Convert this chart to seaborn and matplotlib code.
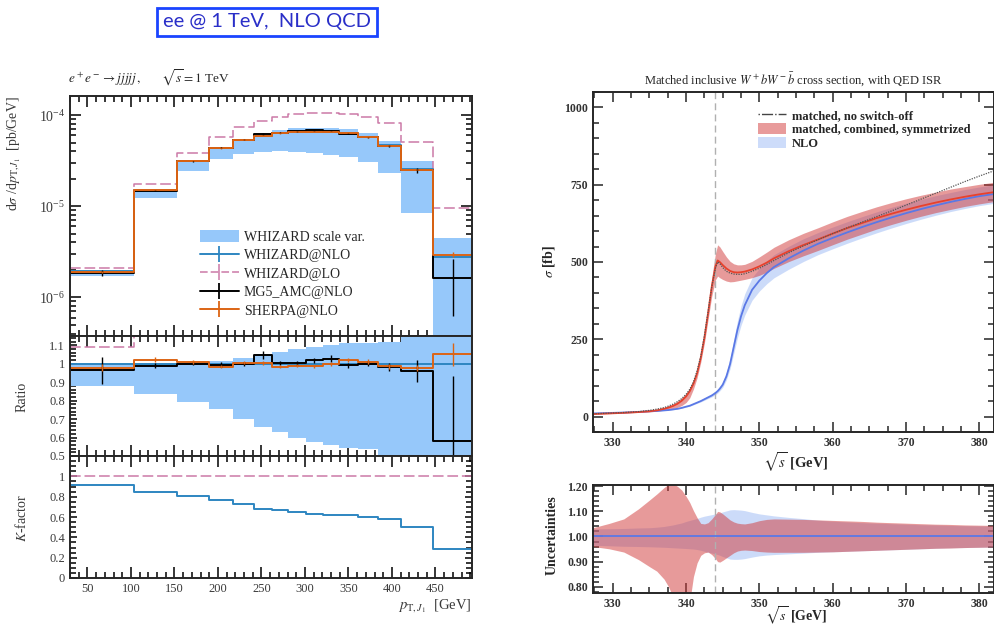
import numpy as np
import matplotlib
matplotlib.use("Agg")
import matplotlib.pyplot as plt
import seaborn as sns
from matplotlib.lines import Line2D
from matplotlib.patches import Patch
from matplotlib.ticker import MultipleLocator, FixedLocator, FuncFormatter, LogLocator, NullFormatter

# ---------------- e+e- -> jjjjj at 1 TeV : leading-jet pT ----------------
pt_edges = [30, 103.5, 153, 190, 217.7, 242, 262.7, 281, 300.8, 320.4,
            338.8, 360.8, 383.8, 410.4, 447.3, 492]
whizard_nlo = [1.93e-6, 1.49e-5, 3.10e-5, 4.40e-5, 5.35e-5, 5.90e-5, 6.40e-5, 6.62e-5,
               6.70e-5, 6.55e-5, 6.30e-5, 5.68e-5, 4.68e-5, 2.58e-5, 2.80e-6]
whizard_lo = [2.10e-6, 1.76e-5, 3.84e-5, 5.73e-5, 7.37e-5, 8.64e-5, 9.55e-5, 1.02e-4,
              1.057e-4, 1.056e-4, 1.02e-4, 9.47e-5, 8.10e-5, 5.10e-5, 9.65e-6]
mg5_nlo = [1.86e-6, 1.475e-5, 3.10e-5, 4.38e-5, 5.35e-5, 6.17e-5, 6.42e-5, 6.65e-5,
           6.83e-5, 6.73e-5, 6.24e-5, 5.68e-5, 4.59e-5, 2.48e-5, 1.62e-6]
mg5_err = [1.4e-7, 2e-7, 3e-7, 5e-7, 6e-7, 1.2e-6, 6e-7, 8e-7,
           9e-7, 1.2e-6, 8e-7, 8e-7, 1.0e-6, 1.5e-6, 1.0e-6]
sherpa_nlo = [1.89e-6, 1.52e-5, 3.13e-5, 4.33e-5, 5.38e-5, 5.93e-5, 6.30e-5, 6.55e-5,
              6.60e-5, 6.55e-5, 6.43e-5, 5.74e-5, 4.61e-5, 2.52e-5, 2.94e-6]
sherpa_err = [4e-8, 2e-7, 3e-7, 4e-7, 5e-7, 6e-7, 6e-7, 6e-7,
              7e-7, 7e-7, 8e-7, 7e-7, 6e-7, 4e-7, 1.8e-7]
scale_hi = [1.93e-6, 1.49e-5, 3.10e-5, 4.47e-5, 5.51e-5, 6.20e-5, 6.82e-5, 7.15e-5,
            7.30e-5, 7.20e-5, 6.99e-5, 6.33e-5, 5.24e-5, 3.12e-5, 4.48e-6]
scale_lo = [1.70e-6, 1.244e-5, 2.45e-5, 3.32e-5, 3.745e-5, 3.89e-5, 4.03e-5, 3.97e-5,
            3.85e-5, 3.67e-5, 3.43e-5, 3.04e-5, 2.29e-5, 8.5e-6, 8e-8]

# ---------------- W+bW-bbar threshold scan ----------------
sqrt_s = [327.3, 329.5, 331.5, 333.5, 335, 336, 337, 337.6, 338.2, 338.8, 339.4, 340,
          340.5, 341, 341.5, 342, 342.5, 343, 343.5, 344, 344.3, 344.6, 345, 345.5,
          346, 346.5, 347, 347.5, 348, 349, 350, 351, 352, 354, 356, 358, 360, 362,
          364, 366, 368, 370, 372, 374, 376, 378, 380, 382]
sigma_matched = [8, 10, 12, 14.5, 17, 20, 25, 29, 34, 41, 51, 65,
                 82, 106, 140, 190, 255, 335, 420, 485, 505, 500, 490, 479,
                 471, 467, 466, 467, 469, 476, 486, 498, 512, 535, 555, 573, 592, 610,
                 626, 642, 656, 669, 681, 692, 702, 711, 719, 726]
sigma_nlo = [10, 11.5, 13, 15, 17, 18, 20, 21, 23, 25, 28, 32,
             35, 40, 45, 50, 56, 62, 68, 76, 82, 90, 103, 130,
             170, 225, 280, 325, 360, 410, 440, 464, 484, 512, 537, 559, 578, 596,
             613, 629, 644, 658, 671, 683, 694, 704, 713, 720]
sigma_noswitch = [9, 11, 13, 16, 20, 24, 29, 34, 40, 48, 58, 72,
                  88, 112, 148, 195, 262, 340, 420, 480, 500, 495, 482, 470,
                  464, 461, 460, 460, 462, 470, 480, 492, 505, 530, 552, 572, 592, 611,
                  629, 647, 665, 684, 703, 722, 741, 760, 778, 795]
matched_up = [1.035, 1.052, 1.070, 1.110, 1.145, 1.169, 1.195, 1.208, 1.210, 1.200, 1.185, 1.160,
              1.135, 1.103, 1.075, 1.052, 1.050, 1.055, 1.070, 1.088, 1.100, 1.098, 1.090, 1.078,
              1.066, 1.058, 1.053, 1.051, 1.050, 1.055, 1.063, 1.068, 1.070, 1.069, 1.068, 1.066,
              1.064, 1.062, 1.060, 1.057, 1.055, 1.053, 1.051, 1.049, 1.048, 1.046, 1.045, 1.044]
matched_dn = [0.960, 0.951, 0.938, 0.908, 0.880, 0.862, 0.830, 0.800, 0.760, 0.720, 0.700, 0.700,
              0.740, 0.840, 0.895, 0.925, 0.935, 0.938, 0.928, 0.912, 0.900, 0.898, 0.905, 0.915,
              0.925, 0.935, 0.942, 0.945, 0.946, 0.944, 0.940, 0.938, 0.937, 0.937, 0.937, 0.938,
              0.939, 0.941, 0.943, 0.945, 0.947, 0.949, 0.951, 0.953, 0.954, 0.956, 0.957, 0.958]
nlo_up = [1.030, 1.031, 1.032, 1.034, 1.035, 1.037, 1.040, 1.043, 1.046, 1.050, 1.054, 1.060,
          1.064, 1.068, 1.072, 1.077, 1.081, 1.084, 1.087, 1.090, 1.092, 1.094, 1.098, 1.102,
          1.106, 1.107, 1.106, 1.105, 1.103, 1.096, 1.090, 1.086, 1.082, 1.076, 1.071, 1.065,
          1.061, 1.058, 1.055, 1.053, 1.051, 1.049, 1.047, 1.046, 1.044, 1.043, 1.042, 1.041]
nlo_dn = [0.965, 0.963, 0.961, 0.960, 0.959, 0.958, 0.957, 0.956, 0.955, 0.954, 0.953, 0.952,
          0.951, 0.950, 0.948, 0.945, 0.941, 0.937, 0.934, 0.930, 0.928, 0.925, 0.920, 0.915,
          0.910, 0.909, 0.909, 0.910, 0.912, 0.918, 0.923, 0.926, 0.928, 0.931, 0.934, 0.937,
          0.939, 0.941, 0.943, 0.945, 0.947, 0.949, 0.951, 0.953, 0.955, 0.956, 0.957, 0.958]
top_threshold = 344.0

# ---------------- style ----------------
sns.set_theme(style="ticks")
plt.rcParams["font.family"] = ["Liberation Serif", "DejaVu Serif"]
plt.rcParams["mathtext.fontset"] = "stix"
plt.rcParams["axes.linewidth"] = 1.4

C_BAND = "#96c8fa"
C_WNLO = "#2e86c1"
C_WLO = "#cc79a7"
C_MG5 = "black"
C_SHERPA = "#dc6414"
C_RED = "#e8412c"
C_BLUE = "#5a78e6"

W, H = 994, 628
fig = plt.figure(figsize=(W / 100, H / 100), dpi=100)


def frac(x0, y0, x1, y1):
    return [x0 / W, 1 - y1 / H, (x1 - x0) / W, (y1 - y0) / H]


edges = np.array(pt_edges)
centers = 0.5 * (edges[:-1] + edges[1:])
nlo = np.array(whizard_nlo)


def stairs(ax, vals, color, lw=1.4, **kw):
    y = list(vals) + [vals[-1]]
    sns.lineplot(x=edges, y=y, ax=ax, color=color, lw=lw, drawstyle="steps-post",
                 estimator=None, sort=False, **kw)


def band(ax, lo, hi):
    ax.fill_between(edges, list(lo) + [lo[-1]], list(hi) + [hi[-1]], step="post",
                    color=C_BAND, lw=0, zorder=1)


def left_style(ax, show_x=False):
    ax.set_xlim(30, 492)
    ax.xaxis.set_major_locator(MultipleLocator(50))
    ax.xaxis.set_minor_locator(MultipleLocator(10))
    ax.tick_params(which="both", direction="in", top=True, right=True,
                   labelsize=9, colors="black", labelcolor="#3a3a3a", width=1.1)
    ax.tick_params(which="major", length=8)
    ax.tick_params(which="minor", length=4)
    if not show_x:
        ax.tick_params(labelbottom=False)
    ax.set_xlabel("")
    ax.set_ylabel("")


# ----- main distribution panel -----
ax1 = fig.add_axes(frac(70, 96, 472, 336))
ax1.set_yscale("log")
band(ax1, scale_lo, scale_hi)
stairs(ax1, whizard_lo, C_WLO, lw=1.1, linestyle=(0, (7, 2.5)))
stairs(ax1, whizard_nlo, C_WNLO)
stairs(ax1, mg5_nlo, C_MG5)
stairs(ax1, sherpa_nlo, C_SHERPA)
ax1.errorbar(centers, mg5_nlo, yerr=mg5_err, fmt="none", ecolor=C_MG5, elinewidth=1.0)
ax1.errorbar(centers, sherpa_nlo, yerr=sherpa_err, fmt="none", ecolor=C_SHERPA, elinewidth=1.0)
ax1.set_ylim(3.76e-7, 1.62e-4)
ax1.yaxis.set_major_locator(LogLocator(base=10, numticks=10))
ax1.yaxis.set_minor_locator(LogLocator(base=10, subs=np.arange(2, 10), numticks=10))
ax1.yaxis.set_minor_formatter(NullFormatter())
left_style(ax1)
ax1.tick_params(axis="y", labelsize=10)

leg_handles = [
    Patch(facecolor=C_BAND, edgecolor="none"),
    Line2D([], [], color=C_WNLO, lw=1.4, marker="|", markersize=11, markeredgewidth=1.3),
    Line2D([], [], color=C_WLO, lw=1.1, ls=(0, (5, 2)), marker="|", markersize=11, markeredgewidth=1.1),
    Line2D([], [], color=C_MG5, lw=1.4, marker="|", markersize=11, markeredgewidth=1.3),
    Line2D([], [], color=C_SHERPA, lw=1.4, marker="|", markersize=11, markeredgewidth=1.3),
]
leg_labels = ["WHIZARD scale var.", "WHIZARD@NLO", "WHIZARD@LO", "MG5_AMC@NLO", "SHERPA@NLO"]
fig.legend(leg_handles, leg_labels, loc="upper left", bbox_to_anchor=(200 / W, 1 - 230 / H),
           frameon=False, fontsize=10, handlelength=2.8, handleheight=1.0,
           handletextpad=0.35, labelspacing=0.32, borderpad=0, borderaxespad=0)

# ----- ratio panel -----
ax2 = fig.add_axes(frac(70, 336, 472, 456))
band(ax2, np.array(scale_lo) / nlo, np.array(scale_hi) / nlo)
stairs(ax2, np.array(whizard_lo) / nlo, C_WLO, lw=1.1, linestyle=(0, (7, 2.5)))
stairs(ax2, nlo / nlo, C_WNLO)
stairs(ax2, np.array(mg5_nlo) / nlo, C_MG5)
stairs(ax2, np.array(sherpa_nlo) / nlo, C_SHERPA)
ax2.errorbar(centers, np.array(mg5_nlo) / nlo, yerr=np.array(mg5_err) / nlo,
             fmt="none", ecolor=C_MG5, elinewidth=1.0)
ax2.errorbar(centers, np.array(sherpa_nlo) / nlo, yerr=np.array(sherpa_err) / nlo,
             fmt="none", ecolor=C_SHERPA, elinewidth=1.0)
ax2.set_ylim(0.5, 1.15)
ax2.yaxis.set_major_locator(FixedLocator([0.5, 0.6, 0.7, 0.8, 0.9, 1.0, 1.1]))
ax2.yaxis.set_minor_locator(MultipleLocator(0.02))
ax2.yaxis.set_major_formatter(FuncFormatter(lambda v, p: f"{v:g}"))
left_style(ax2)
ax2.tick_params(axis="y", which="major", length=5)

# ----- K-factor panel -----
ax3 = fig.add_axes(frac(70, 456, 472, 578))
lo = np.array(whizard_lo)
stairs(ax3, lo / lo, C_WLO, lw=1.1, linestyle=(0, (7, 2.5)))
stairs(ax3, nlo / lo, C_WNLO)
ax3.set_ylim(0, 1.2)
ax3.yaxis.set_major_locator(FixedLocator([0, 0.2, 0.4, 0.6, 0.8, 1.0]))
ax3.yaxis.set_minor_locator(MultipleLocator(0.05))
ax3.yaxis.set_major_formatter(FuncFormatter(lambda v, p: f"{v:g}"))
left_style(ax3, show_x=True)
ax3.tick_params(axis="y", which="major", length=5)

fig.text(14 / W, 1 - 96 / H, r"d$\sigma$ /d$p_{\mathrm{T},J_1}$  [pb/GeV]", rotation=90,
         ha="center", va="top", fontsize=10, color="#3a3a3a")
fig.text(22 / W, 1 - 397 / H, "Ratio", rotation=90, ha="center", va="center",
         fontsize=10, color="#3a3a3a")
fig.text(22 / W, 1 - 518 / H, r"$K$-factor", rotation=90, ha="center", va="center",
         fontsize=10, color="#3a3a3a")
fig.text(472 / W, 1 - 606 / H, r"$p_{\mathrm{T},J_1}$  [GeV]", ha="right", va="center",
         fontsize=10.5, color="#3a3a3a")
fig.text(68 / W, 1 - 78 / H, r"$e^+e^-\to jjjjj\,,\qquad \sqrt{s}=1$ TeV",
         ha="left", va="center", fontsize=9.5)

# ----- banner -----
fig.text(267 / W, 1 - 22 / H, "ee @ 1 TeV,  NLO QCD", ha="center", va="center",
         fontsize=14.5, color="#2a2fc8", family=["Lato", "DejaVu Sans"],
         bbox=dict(boxstyle="square,pad=0.28", fc="white", ec="#1a44ff", lw=2.0))

# ---------------- threshold scan panels ----------------
s = np.array(sqrt_s)
sm = np.array(sigma_matched)
sn = np.array(sigma_nlo)


def right_style(ax):
    ax.set_xlim(327.3, 382.0)
    ax.xaxis.set_major_locator(MultipleLocator(10))
    ax.xaxis.set_minor_locator(MultipleLocator(2.5))
    ax.tick_params(which="both", direction="in", top=True, right=True, width=1.1,
                   labelsize=8.5, labelcolor="#333333")
    ax.tick_params(which="major", length=7)
    ax.tick_params(which="minor", length=4)
    for lab in ax.get_xticklabels() + ax.get_yticklabels():
        lab.set_fontweight("bold")
    ax.axvline(top_threshold, color="#b0b0b0", lw=1.0, ls=(0, (5, 3)), zorder=1)
    ax.set_xlabel("")
    ax.set_ylabel("")


ax4 = fig.add_axes(frac(593, 92, 994, 432))
ax4.fill_between(s, sn * np.array(nlo_dn), sn * np.array(nlo_up), color="#9bb9f5", alpha=0.5, lw=0)
ax4.fill_between(s, sm * np.array(matched_dn), sm * np.array(matched_up), color="#d13737", alpha=0.5, lw=0)
sns.lineplot(x=s, y=sn, ax=ax4, color=C_BLUE, lw=1.3, estimator=None, sort=False)
sns.lineplot(x=s, y=sm, ax=ax4, color=C_RED, lw=1.3, estimator=None, sort=False)
sns.lineplot(x=s, y=sigma_noswitch, ax=ax4, color="#555555", lw=0.9,
             linestyle=(0, (1, 1)), estimator=None, sort=False)
ax4.set_ylim(-50, 1050)
ax4.yaxis.set_major_locator(MultipleLocator(250))
ax4.yaxis.set_minor_locator(MultipleLocator(50))
right_style(ax4)
ax4.set_title(r"Matched inclusive $W^+bW^-\bar{b}$ cross section, with QED ISR",
              fontsize=9, pad=6)

r_handles = [
    Line2D([], [], color="#444444", lw=1.0, ls=(0, (1, 1.5, 8, 1.5))),
    Patch(facecolor="#e89b9b", edgecolor="none"),
    Patch(facecolor="#cddcfa", edgecolor="none"),
]
r_labels = ["matched, no switch-off", "matched, combined, symmetrized", "NLO"]
ax4.legend(r_handles, r_labels, loc="upper left", bbox_to_anchor=((758 - 593) / 401, (432 - 109) / 340),
           frameon=False, prop=dict(size=9, weight="bold"), handlelength=2.2, handleheight=1.0,
           handletextpad=0.5, labelspacing=0.08, borderpad=0, borderaxespad=0)

fig.text(549 / W, 1 - 262 / H, r"$\sigma$ [fb]", rotation=90, ha="center", va="center",
         fontsize=10, fontweight="bold")
fig.text(796 / W, 1 - 462 / H, r"$\sqrt{s}$ [GeV]", ha="center", va="center",
         fontsize=10.5, fontweight="bold")

ax5 = fig.add_axes(frac(593, 485, 994, 593))
ax5.fill_between(s, nlo_dn, nlo_up, color="#9bb9f5", alpha=0.5, lw=0)
ax5.fill_between(s, matched_dn, matched_up, color="#d13737", alpha=0.5, lw=0)
sns.lineplot(x=s, y=np.ones_like(s), ax=ax5, color=C_BLUE, lw=1.3, estimator=None, sort=False)
ax5.set_ylim(0.775, 1.205)
ax5.yaxis.set_major_locator(MultipleLocator(0.1))
ax5.yaxis.set_minor_locator(MultipleLocator(0.02))
ax5.yaxis.set_major_formatter(FuncFormatter(lambda v, p: f"{v:.2f}"))
right_style(ax5)

fig.text(552 / W, 1 - 535 / H, "Uncertainties", rotation=90, ha="center", va="center",
         fontsize=10, fontweight="bold")
fig.text(796 / W, 1 - 616 / H, r"$\sqrt{s}$ [GeV]", ha="center", va="center",
         fontsize=10, fontweight="bold")

fig.savefig("out.png", dpi=100)
